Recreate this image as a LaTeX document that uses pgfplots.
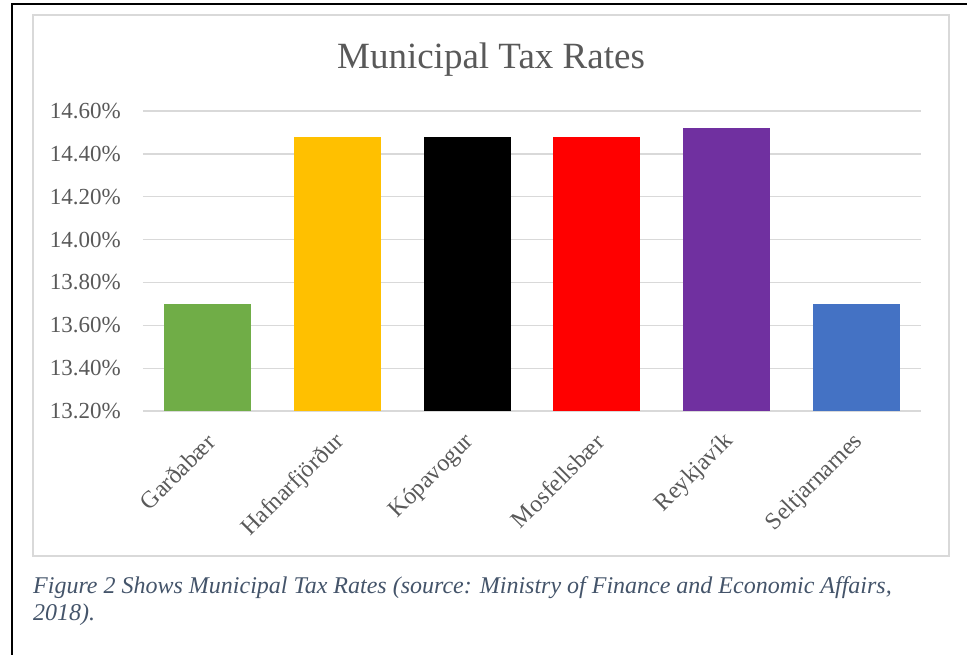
\documentclass[border=0pt]{standalone}
\usepackage{pgfplots}
\pgfplotsset{compat=1.18}
\usepackage{fontspec}
\setmainfont{Liberation Serif}
\definecolor{txtgray}{HTML}{595959}
\definecolor{gridgray}{HTML}{D9D9D9}
\definecolor{capblue}{HTML}{44546A}
\definecolor{cgreen}{HTML}{70AD47}
\definecolor{cyellow}{HTML}{FFC000}
\definecolor{cred}{HTML}{FF0000}
\definecolor{cpurple}{HTML}{7030A0}
\definecolor{cblue}{HTML}{4472C4}
\begin{document}
\begin{tikzpicture}[x=1pt,y=1pt]
\useasboundingbox (0,0) rectangle (967,-654);
% outer frame (left and top)
\draw[line width=2pt,black] (12,-660) -- (12,-4) -- (975,-4);
% chart area frame
\draw[line width=1.3pt,gridgray] (33,-15) rectangle (949,-556);
% title
\node[anchor=base,font=\fontsize{37}{40}\selectfont,text=txtgray,inner sep=0pt] at (491,-68) {Municipal Tax Rates};
\begin{axis}[
  at={(143pt,-411pt)}, anchor=south west,
  scale only axis, width=778pt, height=300pt,
  xmin=-0.5, xmax=5.5, ymin=13.2, ymax=14.6,
  axis line style={draw=none},
  major tick length=0pt,
  ymajorgrids, grid style={gridgray, line width=1.3pt},
  ytick={13.2,13.4,13.6,13.8,14.0,14.2,14.4,14.6},
  yticklabels={13.20\%,13.40\%,13.60\%,13.80\%,14.00\%,14.20\%,14.40\%,14.60\%},
  yticklabel style={font=\fontsize{23}{26}\selectfont, text=txtgray, anchor=east, inner sep=0pt, xshift=-22pt},
  xtick={0,1,2,3,4,5},
  xticklabels={Garðabær,Hafnarfjörður,Kópavogur,Mosfellsbær,Reykjavík,Seltjarnarnes},
  xticklabel style={font=\fontsize{24}{26}\selectfont, text=txtgray, rotate=45, anchor=east, inner sep=0pt, xshift=-17pt, yshift=-21.5pt},
  ybar, bar width=87pt, bar shift=0pt,
]
\addplot[fill=cgreen, draw=none] coordinates {(0,13.70)};
\addplot[fill=cyellow, draw=none] coordinates {(1,14.48)};
\addplot[fill=black, draw=none] coordinates {(2,14.48)};
\addplot[fill=cred, draw=none] coordinates {(3,14.48)};
\addplot[fill=cpurple, draw=none] coordinates {(4,14.52)};
\addplot[fill=cblue, draw=none] coordinates {(5,13.70)};
\end{axis}
% caption
\node[anchor=base west,font=\fontsize{24}{27}\selectfont\itshape,text=capblue,inner sep=0pt,align=left] at (33,-620) {Figure 2 Shows Municipal Tax Rates (source: Ministry of Finance and Economic Affairs,\\2018).};
\end{tikzpicture}
\end{document}
